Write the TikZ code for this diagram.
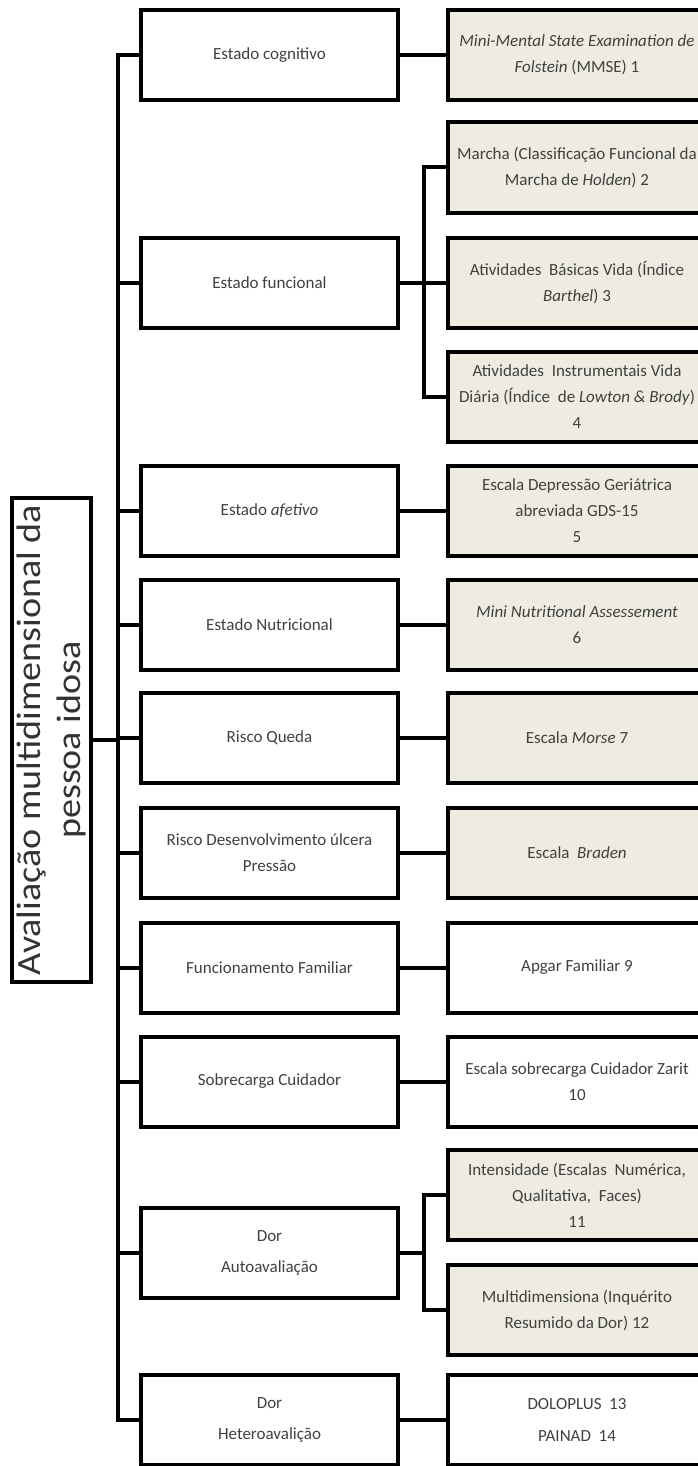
\documentclass[tikz,border=0pt]{standalone}
\usepackage{fontspec}
\setmainfont{Carlito}
\newfontfamily\titlefont{Carlito}[FakeStretch=1.12]
\usetikzlibrary{positioning, calc}
\definecolor{instrfill}{HTML}{EEECE1}
\tikzset{dimbox/.style={draw, line width=4pt, minimum width=257pt, minimum height=90pt, align=center, text=black!75, font=\fontsize{17}{26}\selectfont},
    instrbox/.style={dimbox, minimum width=258pt, fill=instrfill},
    plainbox/.style={dimbox, minimum width=258pt},
    titlebox/.style={draw, line width=4pt, minimum width=484pt, minimum height=79pt, align=center, rotate=90, text=black!80, font=\titlefont\fontsize{34}{40}\selectfont},
    link/.style={line width=4pt, line cap=rect}}
\begin{document}
\begin{tikzpicture}[x=1pt, y=-1pt]
\useasboundingbox (0,0) rectangle (697,1466);
\node[titlebox] (title) at (51.5,740) {Avaliação multidimensional da\\pessoa idosa};
\node[dimbox] (cog) at (269.5,55) {Estado cognitivo};
\node[dimbox] (func) at (269.5,283) {Estado funcional};
\node[dimbox] (afet) at (269.5,511) {Estado \textit{afetivo}};
\node[dimbox] (nutr) at (269.5,624.5) {Estado Nutricional};
\node[dimbox] (queda) at (269.5,738) {Risco Queda};
\node[dimbox] (ulcera) at (269.5,852.5) {Risco Desenvolvimento úlcera\\Pressão};
\node[dimbox] (fam) at (269.5,967.5) {Funcionamento Familiar};
\node[dimbox] (cuid) at (269.5,1081.5) {Sobrecarga Cuidador};
\node[dimbox] (dorauto) at (269.5,1252.5) {Dor\\[5pt]Autoavaliação};
\node[dimbox] (dorhet) at (269.5,1420) {Dor\\[5pt]Heteroavalição};
\node[instrbox] (mmse) at (577,55) {\textit{Mini-Mental State Examination de}\\\textit{Folstein} (MMSE) 1};
\node[instrbox] (marcha) at (577,167.5) {Marcha (Classificação Funcional da\\Marcha de \textit{Holden}) 2};
\node[instrbox] (avd) at (577,283) {Atividades\ \ Básicas Vida (Índice\\\textit{Barthel}) 3};
\node[instrbox] (aivd) at (577,396.5) {Atividades\ \ Instrumentais Vida\\Diária (Índice\ \ de \textit{Lowton \& Brody})\\4};
\node[instrbox] (gds) at (577,511) {Escala Depressão Geriátrica\\abreviada GDS-15\\5};
\node[instrbox] (mna) at (577,624.5) {\textit{Mini Nutritional Assessement}\\6};
\node[instrbox] (morse) at (577,738) {Escala \textit{Morse} 7};
\node[instrbox] (braden) at (577,852.5) {Escala\ \ \textit{Braden}};
\node[plainbox] (apgar) at (577,967.5) {Apgar Familiar 9};
\node[plainbox] (zarit) at (577,1081.5) {Escala sobrecarga Cuidador Zarit\\10};
\node[instrbox] (intens) at (577,1195) {Intensidade (Escalas\ \ Numérica,\\Qualitativa,\ \ Faces)\\11};
\node[instrbox] (multi) at (577,1310) {Multidimensiona (Inquérito\\Resumido da Dor) 12};
\node[plainbox] (dolo) at (577,1420) {DOLOPLUS\ \ 13\\[6pt]PAINAD\ \ 14};
\coordinate (trunk) at (118,0);
\coordinate (fsub) at (424,0);
\draw[link] (trunk |- cog.west) -- (trunk |- dorhet.west);
\draw[link] (title.south) -- (title.south -| trunk);
\foreach \n in {cog, func, afet, nutr, queda, ulcera, fam, cuid, dorauto, dorhet}
    \draw[link] (\n.west) -- (\n.west -| trunk);
\draw[link] (cog) -- (mmse);
\draw[link] (afet) -- (gds);
\draw[link] (nutr) -- (mna);
\draw[link] (queda) -- (morse);
\draw[link] (ulcera) -- (braden);
\draw[link] (fam) -- (apgar);
\draw[link] (cuid) -- (zarit);
\draw[link] (dorhet) -- (dolo);
\draw[link] (func.east) -- (func.east -| fsub);
\draw[link] (fsub |- marcha.west) -- (fsub |- aivd.west);
\foreach \n in {marcha, avd, aivd}
    \draw[link] (\n.west) -- (\n.west -| fsub);
\draw[link] (dorauto.east) -- (dorauto.east -| fsub);
\draw[link] (fsub |- intens.west) -- (fsub |- multi.west);
\foreach \n in {intens, multi}
    \draw[link] (\n.west) -- (\n.west -| fsub);
\end{tikzpicture}
\end{document}
